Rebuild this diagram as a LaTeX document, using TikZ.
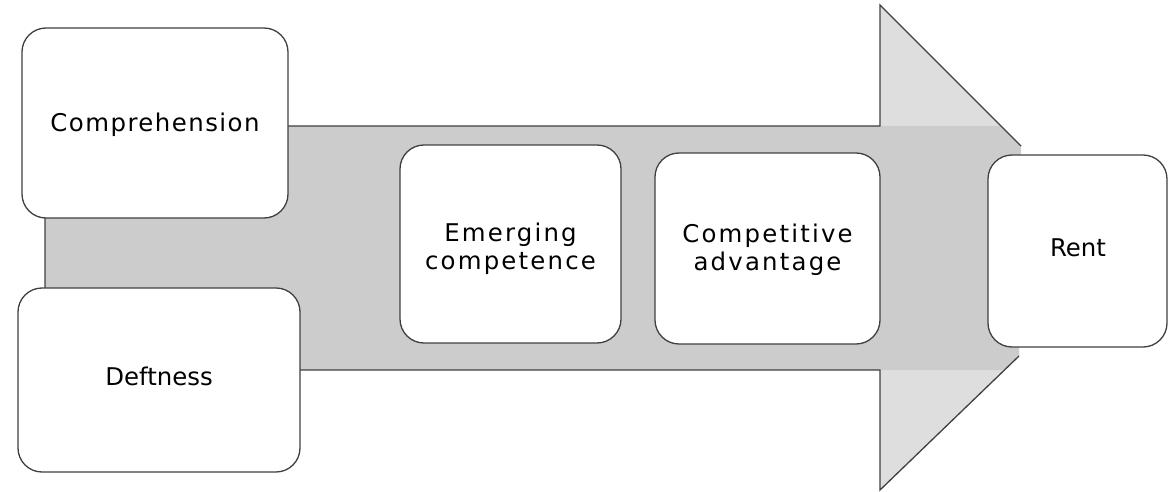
\documentclass[tikz,border=0pt]{standalone}
\usepackage{fontspec}
\setmainfont{DejaVu Sans}
\newfontfamily\spacedfont[LetterSpace=9]{DejaVu Sans}
\newfontfamily\lightspacedfont[LetterSpace=6]{DejaVu Sans}
\begin{document}
\begin{tikzpicture}[x=1pt,y=-1pt]
\tikzset{
  box/.style={draw=black!75, line width=1.3pt, fill=white, rounded corners=24pt, inner sep=0pt},
  lbl/.style={font=\fontsize{24.4}{28}\selectfont, align=center},
  slbl/.style={font=\fontsize{24.4}{28}\spacedfont, align=center},
  mlbl/.style={font=\fontsize{24.4}{28}\lightspacedfont, align=center},
  edge/.style={draw=black!75, line width=1.3pt}
}
\useasboundingbox (0,0) rectangle (1173,492);
% big arrow
\coordinate (a1) at (45,370);
\coordinate (a2) at (45,126);
\coordinate (a3) at (880,126);
\coordinate (a4) at (880,5);
\coordinate (a5) at (1021,146);
\coordinate (a6) at (1019,356);
\coordinate (a7) at (880,490);
\coordinate (a8) at (880,370);
\fill[black!13] (a3) -- (a4) -- (a5) -- (a6) -- (a7) -- (a8) -- cycle;
\fill[black!20] (a1) -- (a2) -- (a3) -- (1001,126) -- (a5) -- (a6) -- (1004.5,370) -- (a8) -- cycle;
\draw[edge] (a1) -- (a2) -- (a3) -- (a4) -- (a5);
\draw[edge] (a6) -- (a7) -- (a8) -- (a1);
% boxes
\node[box, minimum width=266pt, minimum height=190pt] (comp) at (155,123) {};
\node[box, minimum width=282pt, minimum height=184pt] (deft) at (159,380) {};
\node[box, minimum width=221pt, minimum height=198pt] (emer) at (510.5,244) {};
\node[box, minimum width=225pt, minimum height=191pt] (cadv) at (767.5,248.5) {};
\node[box, minimum width=179pt, minimum height=192pt] (rent) at (1077.5,251) {};
% labels
\node[mlbl] (compt) at (155,125) {Comprehension};
\node[lbl] (deftt) at (159,376) {Deftness};
\node[slbl] (emert) at (510.5,249) {Emerging\\competence};
\node[slbl] (cadvt) at (767.5,250) {Competitive\\advantage};
\node[lbl] (rentt) at (1078,248) {Rent};
\end{tikzpicture}
\end{document}
